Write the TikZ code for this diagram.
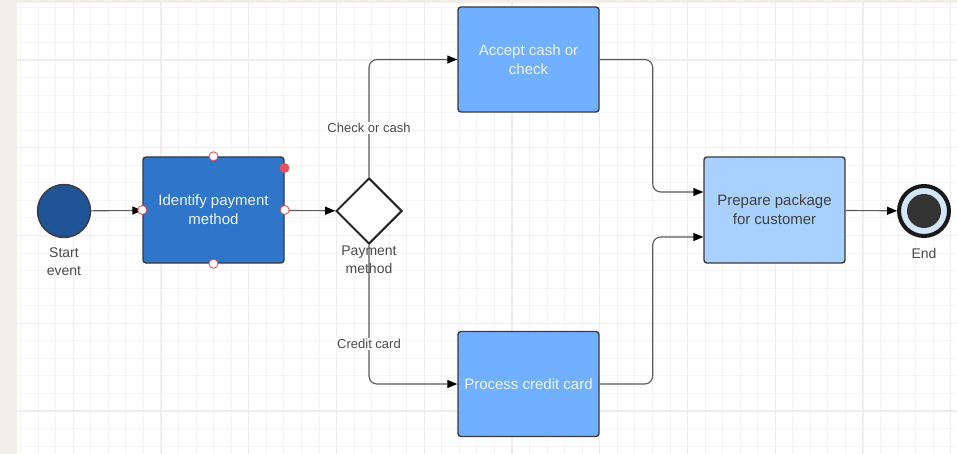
\documentclass[tikz,border=0pt]{standalone}
\usepackage{fontspec}
\setmainfont{Liberation Sans}
\usetikzlibrary{shapes.geometric,arrows.meta,calc}
\definecolor{beige}{HTML}{F2EFE8}
\definecolor{gridminor}{HTML}{F4F4F6}
\definecolor{gridmajor}{HTML}{EEEEF1}
\definecolor{startfill}{HTML}{1F5596}
\definecolor{idfill}{HTML}{2F75C9}
\definecolor{taskfill}{HTML}{70B0FF}
\definecolor{prepfill}{HTML}{A9D1FF}
\definecolor{bordc}{HTML}{3A3A3A}
\definecolor{linec}{HTML}{5A5A5A}
\definecolor{labelc}{HTML}{4A4A4A}
\definecolor{handlec}{HTML}{E2555F}
\definecolor{endring}{HTML}{D2E6FF}
\definecolor{whitetext}{HTML}{EEF4FF}
\begin{document}
\begin{tikzpicture}[x=1pt,y=-1pt,
  task/.style={draw=bordc,line width=1.4pt,rounded corners=3pt,minimum width=141pt,minimum height=105pt,inner sep=0pt,align=center,font=\fontsize{15}{19}\selectfont},
  conn/.style={draw=linec,line width=1.1pt,-{Triangle[length=10pt,width=8pt,color=black]}},
  elabel/.style={text=labelc,font=\fontsize{13}{17}\selectfont,align=center,inner sep=1pt},
  handle/.style={circle,draw=handlec,fill=white,line width=0.9pt,minimum size=9pt,inner sep=0pt},
  gridmin/.style={draw=gridminor,line width=1pt},
  gridmaj/.style={draw=gridmajor,line width=1.2pt}]
\useasboundingbox (0,0) rectangle (957,454);
\fill[beige] (0,0) rectangle (957,454);
\fill[white] (17,3) rectangle (957,454);
\foreach \i in {0,...,53} {\draw[gridmin] ({20.65+\i*17.55},3) -- ({20.65+\i*17.55},454);}
\foreach \i in {0,...,25} {\draw[gridmin] (17,{7.35+\i*17.55}) -- (957,{7.35+\i*17.55});}
\foreach \i in {0,...,10} {\draw[gridmaj] ({73.3+\i*87.75},3) -- ({73.3+\i*87.75},454);}
\foreach \i in {0,...,4} {\draw[gridmaj] (17,{60+\i*87.75}) -- (957,{60+\i*87.75});}
% nodes
\node[circle,draw=bordc,fill=startfill,line width=1.4pt,minimum size=53pt,inner sep=0pt] (start) at (64,211) {};
\node[elabel,font=\fontsize{14}{18}\selectfont] (startlbl) at (64,262) {Start\\event};
\node[task,fill=idfill,text=whitetext,minimum height=106pt] (identify) at (213.5,210) {Identify payment\\method};
\node[diamond,draw=black!85,line width=2pt,fill=white,minimum width=66pt,minimum height=66pt,inner sep=0pt] (gw) at (369,211) {};
\node[task,fill=taskfill,text=whitetext] (accept) at (528.5,59.5) {Accept cash or\\check};
\node[task,fill=taskfill,text=whitetext] (process) at (528.5,384) {Process credit card};
\node[task,fill=prepfill,text=black!75,minimum height=106pt] (prepare) at (774.5,210) {Prepare package\\for customer};
\node[circle,draw=black!90,fill=endring,line width=4pt,minimum size=50pt,inner sep=0pt] (endc) at (924,211) {};
\node[circle,fill=black!80,minimum size=34pt,inner sep=0pt] (endcore) at (924,211) {};
\node[elabel,font=\fontsize{14}{18}\selectfont] (endlbl) at (924,253) {End};
% connectors
\draw[conn] (start) -- (identify);
\draw[conn] (identify) -- (gw);
\draw[conn,rounded corners=8pt] (gw.north) |- (accept.west);
\draw[conn,rounded corners=8pt] (gw.south) |- (process.west);
\draw[conn,rounded corners=8pt] (accept.east) -- ++(53,0) |- ([yshift=18pt]prepare.west);
\draw[conn,rounded corners=8pt] (process.east) -- ++(53,0) |- ([yshift=-27pt]prepare.west);
\draw[conn] (prepare) -- (endc);
% labels
\node[elabel,fill=white] (lcheck) at (369,128) {Check or cash};
\node[elabel,fill=white] (lcredit) at (369,344) {Credit card};
\node[elabel,font=\fontsize{14}{18}\selectfont] (gwlbl) at (369,260) {Payment\\method};
% selection handles
\node[handle] (h1) at (identify.north) {};
\node[handle] (h2) at (identify.south) {};
\node[handle] (h3) at (identify.west) {};
\node[handle] (h4) at (identify.east) {};
\node[circle,fill=handlec,minimum size=10pt,inner sep=0pt] (h5) at (284.5,168) {};
\end{tikzpicture}
\end{document}
